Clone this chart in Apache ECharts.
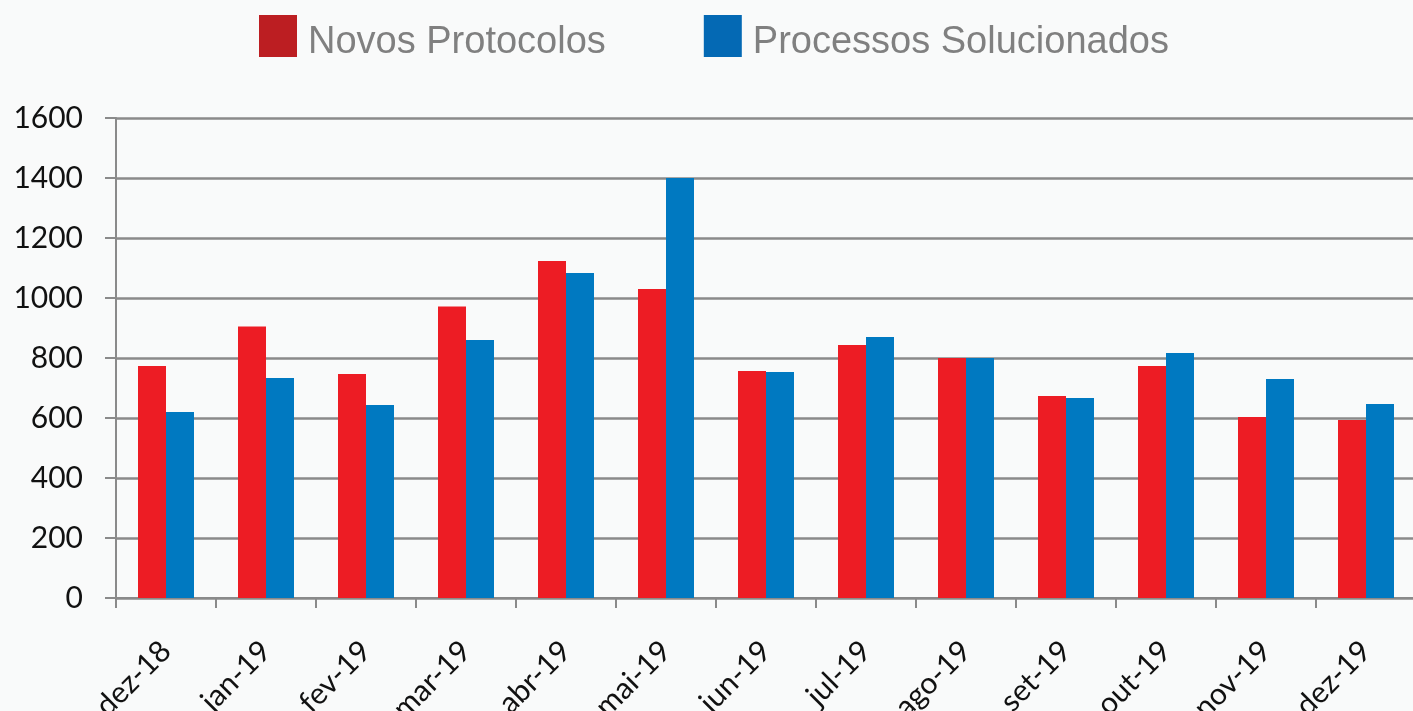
<!DOCTYPE html>
<html>
<head>
<meta charset="utf-8">
<script src="https://cdn.jsdelivr.net/npm/echarts@6/dist/echarts.min.js"></script>
<style>
html,body{margin:0;padding:0;background:#f9fafa;}
#c{width:1413px;height:711px;}
</style>
</head>
<body>
<div id="c"></div>
<script>
const categories = ['dez-18','jan-19','fev-19','mar-19','abr-19','mai-19','jun-19','jul-19','ago-19','set-19','out-19','nov-19','dez-19'];
const novosProtocolos = [773, 905, 747, 972, 1123, 1030, 757, 843, 800, 673, 773, 603, 593];
const processosSolucionados = [620, 733, 643, 860, 1083, 1400, 753, 870, 800, 667, 817, 730, 647];
const seriesNames = ['Novos Protocolos', 'Processos Solucionados'];
const yTicks = {min: 0, max: 1600, interval: 200};

const chart = echarts.init(document.getElementById('c'), null, {renderer: 'canvas'});
chart.setOption({
  backgroundColor: '#f9fafa',
  animation: false,
  legend: {
    left: 254, top: 10,
    itemWidth: 38, itemHeight: 42, itemGap: 98,
    formatter: function (n) { return '{a|' + n + '}'; },
    textStyle: {
      color: '#808080', fontSize: 38, fontFamily: 'Liberation Sans',
      rich: {a: {color: '#808080', fontSize: 38, fontFamily: 'Liberation Sans', padding: [14, 0, 0, 6]}}
    },
    data: [
      {name: seriesNames[0], icon: 'rect', itemStyle: {color: '#bc1e22'}},
      {name: seriesNames[1], icon: 'rect', itemStyle: {color: '#0469b4'}}
    ]
  },
  grid: {left: 116, top: 118, width: 1300, height: 480, containLabel: false, outerBoundsMode: 'none'},
  xAxis: {
    type: 'category',
    data: categories,
    axisLine: {lineStyle: {color: '#8a8a8a', width: 2}},
    axisTick: {show: true, length: 10, alignWithLabel: false, lineStyle: {color: '#8a8a8a', width: 2}},
    axisLabel: {rotate: 45, color: '#111', fontSize: 30, fontFamily: 'Lato', margin: 48, interval: 0}
  },
  yAxis: {
    type: 'value',
    min: yTicks.min, max: yTicks.max, interval: yTicks.interval,
    axisLine: {show: true, lineStyle: {color: '#8a8a8a', width: 2}},
    axisTick: {show: true, length: 11, lineStyle: {color: '#8a8a8a', width: 2}},
    axisLabel: {color: '#111', fontSize: 30, fontFamily: 'Lato', margin: 33, formatter: function (v) { return String(v); }},
    splitLine: {lineStyle: {color: '#8a8a8a', width: 2.5}}
  },
  series: [
    {name: seriesNames[0], type: 'bar', data: novosProtocolos, barWidth: 28, barGap: '0%', itemStyle: {color: '#ed1c24'}},
    {name: seriesNames[1], type: 'bar', data: processosSolucionados, barWidth: 28, barGap: '0%', itemStyle: {color: '#0079c1'}}
  ]
});
</script>
</body>
</html>
